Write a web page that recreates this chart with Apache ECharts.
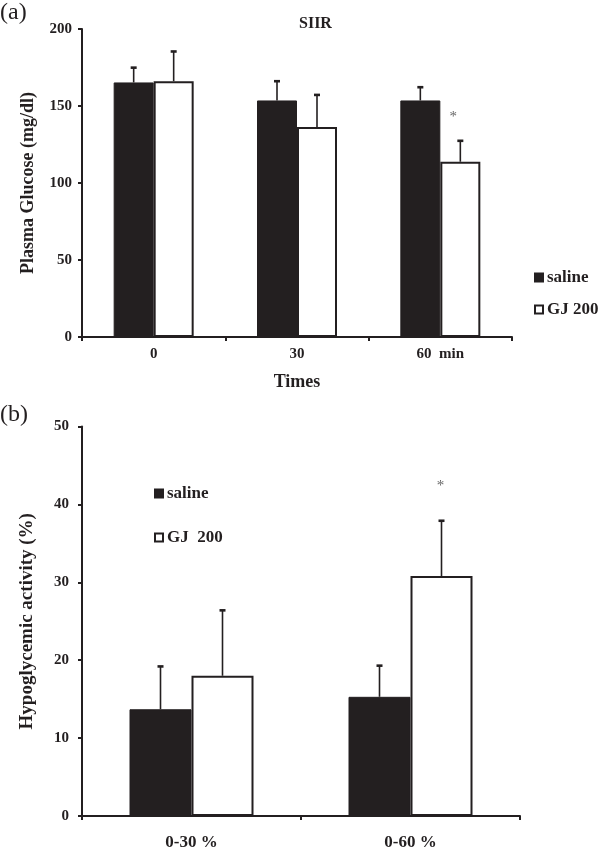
<!DOCTYPE html>
<html>
<head>
<meta charset="utf-8">
<script src="https://cdn.jsdelivr.net/npm/echarts@6/dist/echarts.min.js"></script>
<style>
html,body{margin:0;padding:0;background:#fff;}
#chart{width:600px;height:851px;}
</style>
</head>
<body>
<div id="chart"></div>
<script>
// ---------- Panel (a) data ----------
const catsA = ['0', '30', '60  min'];
const salineA = [165.3, 153.6, 153.6];
const gjA = [166.1, 136.3, 113.8];
const salineErrA = [9.6, 12.5, 8.6];
const gjErrA = [19.3, 20.9, 13.6];
const starA = [[2, 143]];
const ticksA = { min: 0, max: 200, interval: 50 };

// ---------- Panel (b) data ----------
const catsB = ['0-30 %', '0-60 %'];
const salineB = [13.7, 15.3];
const gjB = [18.0, 30.8];
const salineErrB = [5.5, 4.0];
const gjErrB = [8.4, 7.1];
const starB = [[1, 42.4]];
const ticksB = { min: 0, max: 50, interval: 10 };

// ---------- styles ----------
const INK = '#231f20';
const FONT = '"Liberation Serif", "Times New Roman", serif';
const BW_A = 40, BW_B = 62;

function errData(means, errs) {
  return means.map((m, i) => [i, m, errs[i]]);
}
function errSeries(gridIdx, means, errs, side, bw) {
  return {
    type: 'custom',
    xAxisIndex: gridIdx, yAxisIndex: gridIdx,
    z: 5,
    silent: true,
    data: errData(means, errs),
    encode: { x: 0, y: 1 },
    renderItem: function (params, api) {
      const cat = api.value(0), mean = api.value(1), sd = api.value(2);
      const base = api.coord([cat, mean]);
      const top = api.coord([cat, mean + sd]);
      const x = base[0] + side * bw / 2;
      return {
        type: 'group',
        children: [
          { type: 'line', shape: { x1: x, y1: base[1], x2: x, y2: top[1] },
            style: { stroke: INK, lineWidth: 1.6 } },
          { type: 'line', shape: { x1: x - 3, y1: top[1], x2: x + 3, y2: top[1] },
            style: { stroke: INK, lineWidth: 2.6 } }
        ]
      };
    }
  };
}
function starSeries(gridIdx, pts, bw, dx) {
  return {
    type: 'custom',
    xAxisIndex: gridIdx, yAxisIndex: gridIdx,
    z: 6, silent: true,
    data: pts,
    encode: { x: 0, y: 1 },
    renderItem: function (params, api) {
      const p = api.coord([api.value(0), api.value(1)]);
      return {
        type: 'text',
        x: p[0] + bw / 2 + dx, y: p[1],
        style: { text: '*', fill: '#666', font: '15px ' + FONT,
                 align: 'center', verticalAlign: 'middle' }
      };
    }
  };
}

function xAxisCfg(gridIdx, cats, name, labelSize, margin) {
  return {
    type: 'category', gridIndex: gridIdx, data: cats,
    name: name, nameLocation: 'middle', nameGap: 36,
    nameTextStyle: { fontFamily: FONT, fontWeight: 'bold', fontSize: 18, color: INK },
    axisLine: { show: true, lineStyle: { color: INK, width: 2 } },
    axisTick: { show: true, length: 4, lineStyle: { color: INK, width: 2 } },
    axisLabel: { fontFamily: FONT, fontWeight: 'bold', fontSize: labelSize, color: INK, margin: margin },
    splitLine: { show: false }
  };
}
function yAxisCfg(gridIdx, t, name, nameSize, margin) {
  return {
    type: 'value', gridIndex: gridIdx, min: t.min, max: t.max, interval: t.interval,
    name: name, nameLocation: 'middle', nameGap: 45,
    nameTextStyle: { fontFamily: FONT, fontWeight: 'bold', fontSize: nameSize, color: INK },
    axisLine: { show: true, lineStyle: { color: INK, width: 2 } },
    axisTick: { show: true, length: 4, lineStyle: { color: INK, width: 2 } },
    axisLabel: { fontFamily: FONT, fontWeight: 'bold', fontSize: 15, color: INK, margin: margin },
    splitLine: { show: false }
  };
}

const legendText = { fontFamily: FONT, fontWeight: 'bold', fontSize: 17, color: INK, padding: [0, 0, 0, -1] };
const gjIconStyle = { color: '#fff', borderColor: INK, borderWidth: 2 };

const chart = echarts.init(document.getElementById('chart'), null, { renderer: 'canvas' });
chart.setOption({
  backgroundColor: '#fff',
  animation: false,
  grid: [
    { left: 82, top: 29, width: 430, height: 308 },
    { left: 82, top: 426.5, width: 438, height: 390 }
  ],
  graphic: [
    { type: 'text', left: 0, top: 1, style: { text: '(a)', font: '24px ' + FONT, fill: INK } },
    { type: 'text', left: 0, top: 403, style: { text: '(b)', font: '24px ' + FONT, fill: INK } },
    { type: 'text', left: 299, top: 16, style: { text: 'SIIR', font: 'bold 16px ' + FONT, fill: INK } }
  ],
  legend: [
    {
      data: ['saline', { name: 'GJ 200', itemStyle: gjIconStyle }],
      orient: 'vertical', left: 529, top: 264,
      itemWidth: 8, itemHeight: 8, itemGap: 15, icon: 'rect', selectedMode: false,
      textStyle: legendText
    },
    {
      data: ['saline', { name: 'GJ  200', itemStyle: gjIconStyle }],
      orient: 'vertical', left: 149, top: 480,
      itemWidth: 8, itemHeight: 8, itemGap: 27, icon: 'rect', selectedMode: false,
      textStyle: legendText
    }
  ],
  xAxis: [
    xAxisCfg(0, catsA, 'Times', 15, 10),
    xAxisCfg(1, catsB, '', 17, 18)
  ],
  yAxis: [
    yAxisCfg(0, ticksA, 'Plasma Glucose (mg/dl)', 18, 10),
    yAxisCfg(1, ticksB, 'Hypoglycemic activity (%)', 19, 13)
  ],
  series: [
    { name: 'saline', type: 'bar', xAxisIndex: 0, yAxisIndex: 0, data: salineA,
      barWidth: BW_A, barGap: '0%',
      itemStyle: { color: INK, borderColor: INK, borderWidth: 1 } },
    { name: 'GJ 200', type: 'bar', xAxisIndex: 0, yAxisIndex: 0, data: gjA,
      barWidth: BW_A, barGap: '0%',
      itemStyle: { color: '#fff', borderColor: INK, borderWidth: 2 } },
    errSeries(0, salineA, salineErrA, -1, BW_A),
    errSeries(0, gjA, gjErrA, 1, BW_A),
    starSeries(0, starA, BW_A, -7),

    { name: 'saline', type: 'bar', xAxisIndex: 1, yAxisIndex: 1, data: salineB,
      barWidth: BW_B, barGap: '0%',
      itemStyle: { color: INK, borderColor: INK, borderWidth: 1 } },
    { name: 'GJ  200', type: 'bar', xAxisIndex: 1, yAxisIndex: 1, data: gjB,
      barWidth: BW_B, barGap: '0%',
      itemStyle: { color: '#fff', borderColor: INK, borderWidth: 2 } },
    errSeries(1, salineB, salineErrB, -1, BW_B),
    errSeries(1, gjB, gjErrB, 1, BW_B),
    starSeries(1, starB, BW_B, -1)
  ]
});
</script>
</body>
</html>
